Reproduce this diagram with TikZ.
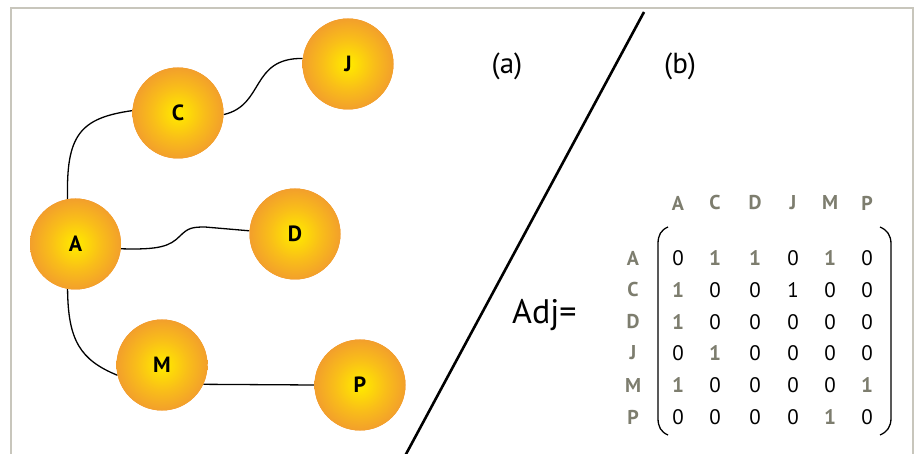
\documentclass[tikz,border=0pt]{standalone}
\usepackage{fontspec}
\setmainfont{PT Sans}
\setsansfont{PT Sans}
\usetikzlibrary{shadings,backgrounds}
\definecolor{framegray}{RGB}{200,198,188}
\definecolor{mgray}{RGB}{125,125,110}
\definecolor{ballin}{RGB}{255,230,0}
\definecolor{ballmid}{RGB}{249,190,25}
\definecolor{ballout}{RGB}{240,148,50}
\pgfdeclareradialshading{ballshade}{\pgfpointorigin}{color(0bp)=(ballin); color(2bp)=(ballin); color(14bp)=(ballmid); color(29bp)=(ballout); color(50bp)=(ballout)}
\tikzset{
  ball/.style={circle,minimum size=91pt,inner sep=0pt,preaction={fill=ballout},shading=ballshade,font=\bfseries\fontsize{22}{22}\selectfont},
  edge/.style={line width=1.3pt,black},
  hdr/.style={font=\bfseries\fontsize{20}{20}\selectfont,text=mgray,inner sep=0pt},
  ent/.style={font=\fontsize{21}{21}\selectfont,text=black,inner sep=0pt},
  one/.style={font=\bfseries\fontsize{21}{21}\selectfont,text=mgray,inner sep=0pt},
  brk/.style={line width=1.3pt,black}
}
\begin{document}
\begin{tikzpicture}[x=1pt,y=-1pt]
\useasboundingbox (0,0) rectangle (916,454);
\draw[framegray,line width=2.6pt] (11,470) -- (11,8) -- (913,8) -- (913,470);
% nodes
\node[ball] (J) at (348,64) {J};
\node[ball] (C) at (178,113) {C};
\node[ball] (A) at (75.5,244) {A};
\node[ball] (D) at (295,234) {D};
\node[ball] (M) at (162,365) {M};
\node[ball] (P) at (360,385) {P};
% edges
\begin{scope}[on background layer]
\draw[edge] (A.100) .. controls (66,135) and (80,118) .. (C.177);
\draw[edge] (C.-2) .. controls (265,105) and (250,58) .. (J.173);
\draw[edge] (A.-6) .. controls (160,250) and (170,246) .. (180,236) .. controls (188,228) and (192,227) .. (205,227) -- (D.176);
\draw[edge] (A.-100) .. controls (68,340) and (80,360) .. (M.193);
\draw[edge] (M.-25) -- (P.180);
\end{scope}
% divider
\coordinate (dtop) at (644,12);
\coordinate (dbot) at (405,456);
\draw[line width=2.6pt,black] (dtop) -- (dbot);
% labels
\node[font=\fontsize{29}{29}\selectfont] (la) at (507,66) {(a)};
\node[font=\fontsize{29}{29}\selectfont] (lb) at (680,66) {(b)};
\node[font=\fontsize{34}{34}\selectfont,anchor=base west,inner sep=0pt] (adj) at (512,324) {Adj=};
% matrix headers
\foreach \l/\x [count=\i] in {A/678,C/715,D/755,J/793,M/830,P/867}{
  \node[hdr] (h\i) at (\x,203) {\l};
}
\foreach \l/\y [count=\i] in {A/258,C/290,D/322,J/353,M/385,P/417}{
  \node[hdr] (r\i) at (633,\y) {\l};
}
% entries: row, column
\foreach \r/\y in {1/258,2/290,3/322,4/353,5/385,6/417}{
  \foreach \c/\x in {1/678,2/715,3/755,4/793,5/830,6/867}{
    \node[ent] (e\r\c) at (\x,\y) {\phantom{0}};
  }
}
% values
\foreach \n in {e11,e14,e16,e22,e23,e25,e26,e32,e33,e34,e35,e36,e41,e43,e44,e45,e46,e52,e53,e54,e55,e61,e62,e63,e64,e66}{
  \node[ent] at (\n) {0};
}
\foreach \n in {e12,e13,e15,e21,e31,e42,e51,e56,e65}{
  \node[one] at (\n) {1};
}
\node[ent] at (e24) {1};
% brackets
\coordinate (lbt) at (668,227);
\coordinate (lbb) at (668,435);
\coordinate (rbt) at (880,227);
\coordinate (rbb) at (880,435);
\draw[brk] (lbt) .. controls (661,230) and (658,235) .. (658,244) -- (658,418) .. controls (658,427) and (661,432) .. (lbb);
\draw[brk] (rbt) .. controls (887,230) and (891,235) .. (891,244) -- (891,418) .. controls (891,427) and (887,432) .. (rbb);
\end{tikzpicture}
\end{document}
